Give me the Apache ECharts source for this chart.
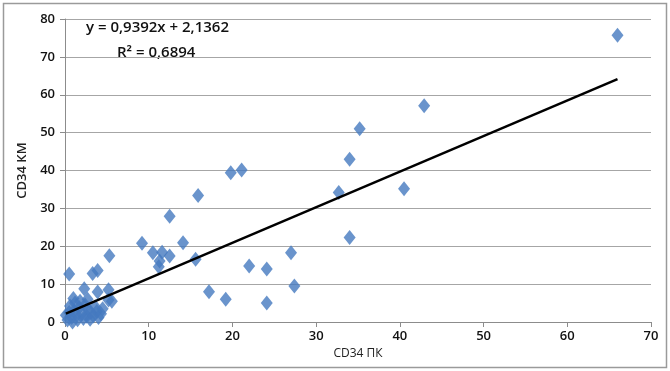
<!DOCTYPE html>
<html><head><meta charset="utf-8">
<script src="https://cdn.jsdelivr.net/npm/echarts@6/dist/echarts.min.js"></script>
<style>html,body{margin:0;padding:0;background:#fff}#c{width:670px;height:371px}</style>
</head><body><div id="c"></div>
<script>
// Scatter points: x = CD34 ПК, y = CD34 КМ
const xValues = [66.0,42.9,35.2,34.0,32.7,40.5,34.0,
  19.8,21.1,15.9,12.5,9.2,14.1,10.5,11.6,12.5,11.3,11.2,15.6,22.0,24.1,27.0,27.4,17.2,19.2,24.1,
  0.5,2.3,3.3,3.9,5.3,3.9,5.2,5.6,5.2,
  0.1,0.3,0.5,0.6,0.8,0.9,1.1,1.2,1.4,1.5,1.7,1.8,2.0,2.2,2.4,2.6,2.8,3.0,3.1,3.4,3.6,3.8,4.0,4.3,4.5,1.0,2.7];
const yValues = [75.7,57.1,51.0,43.0,34.2,35.2,22.3,
  39.4,40.1,33.4,27.9,20.8,20.9,18.3,18.4,17.4,16.1,14.6,16.6,14.8,14.0,18.3,9.5,8.0,6.0,5.0,
  12.7,8.8,12.8,13.6,17.5,7.9,8.5,5.5,5.8,
  1.8,0.5,2.5,4.2,1.2,0.0,3.0,5.0,1.8,0.6,3.8,5.5,2.2,0.9,4.5,1.5,3.2,0.7,2.5,1.6,4.0,2.8,1.2,2.2,3.5,6.2,6.0];
const slope = 0.9392, intercept = 2.1362, r2 = '0,6894';
const xTicks = [0,10,20,30,40,50,60,70];
const yTicks = [0,10,20,30,40,50,60,70,80];
const xName = 'CD34 ПК', yName = 'CD34 КМ';
const eqText = 'y = 0,9392x + 2,1362';
const r2Text = 'R² = ' + r2;

const points = xValues.map((x,i)=>[x,yValues[i]]);
const xmin = Math.min(...xValues), xmax = Math.max(...xValues);
const trend = [[xmin, slope*xmin+intercept],[xmax, slope*xmax+intercept]];

const font = '"Open Sans","Liberation Sans",sans-serif';
const chart = echarts.init(document.getElementById('c'));
chart.setOption({
  animation:false,
  backgroundColor:'#fff',
  grid:{left:65,right:19,top:19,bottom:49},
  xAxis:{type:'value',min:xTicks[0],max:xTicks[xTicks.length-1],interval:10,
    name:xName,nameLocation:'middle',nameGap:26,
    nameTextStyle:{fontFamily:font,fontSize:12,color:'#222'},
    axisLine:{show:true,lineStyle:{color:'#8c8c8c'}},
    axisTick:{show:true,length:5,lineStyle:{color:'#8c8c8c'}},
    axisLabel:{fontFamily:font,fontSize:13,color:'#111',margin:8,fontWeight:600},
    splitLine:{show:false}},
  yAxis:{type:'value',min:yTicks[0],max:yTicks[yTicks.length-1],interval:10,
    name:yName,nameLocation:'middle',nameGap:25,
    nameTextStyle:{fontFamily:font,fontSize:13,color:'#222',fontWeight:600},
    axisLine:{show:true,lineStyle:{color:'#8c8c8c'}},
    axisTick:{show:true,length:5,lineStyle:{color:'#8c8c8c'}},
    axisLabel:{fontFamily:font,fontSize:13,color:'#111',margin:10,fontWeight:600},
    splitLine:{show:true,lineStyle:{color:'#a6a6a6',width:1}}},
  graphic:[
    {type:'rect',shape:{x:3.5,y:3.5,width:663,height:364},style:{fill:'none',stroke:'#9a9a9a',lineWidth:1.5},z:-1},
    {type:'text',left:86,top:20,style:{text:eqText,font:'600 15px '+font,fill:'#111'}},
    {type:'text',left:117,top:45,style:{text:r2Text,font:'600 15px '+font,fill:'#111'}}
  ],
  series:[
    {type:'scatter',data:points,symbol:'diamond',symbolSize:[12,15],
     itemStyle:{color:'#4579bf'},z:2},
    {type:'line',data:trend,showSymbol:false,symbol:'none',
     lineStyle:{color:'#000',width:2.5},z:3}
  ]
});
</script></body></html>
